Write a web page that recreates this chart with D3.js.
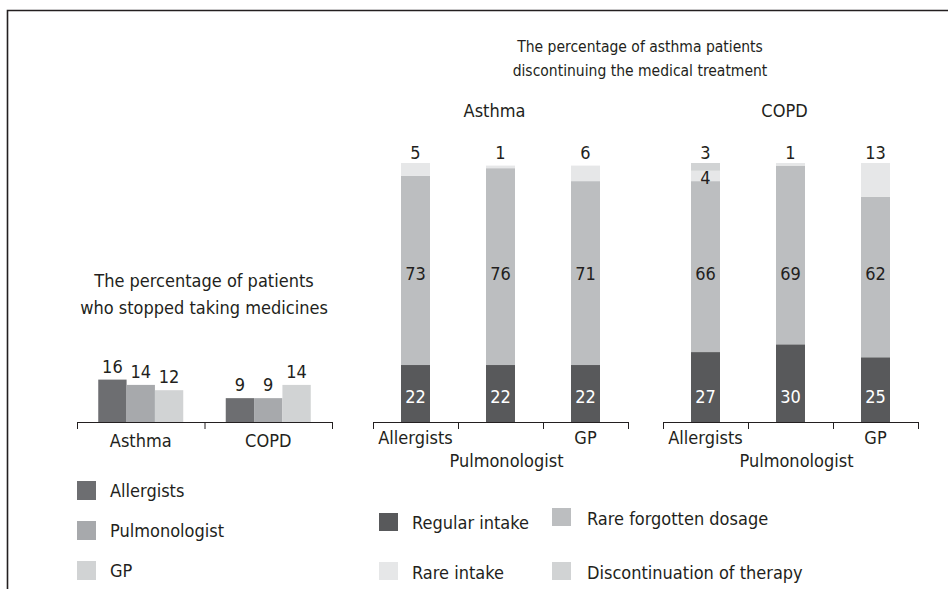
<!DOCTYPE html>
<html>
<head>
<meta charset="utf-8">
<script src="https://cdn.jsdelivr.net/npm/d3@7"></script>
<style>
  body { margin: 0; background: #fff; }
  svg text { font-family: "DejaVu Sans Condensed", "DejaVu Sans", sans-serif; font-stretch: condensed; font-size: 18px; fill: #231f20; }
</style>
</head>
<body>
<div id="chart"></div>
<script>
// left chart: patients who stopped taking medicines
var leftCategories = ["Asthma", "COPD"];
var specialists = ["Allergists", "Pulmonologist", "GP"];
var stoppedAllergists = [16, 9];
var stoppedPulmonologist = [14, 9];
var stoppedGP = [12, 14];

// right chart: discontinuing the medical treatment (by specialist)
var panels = ["Asthma", "COPD"];
var intakeSeries = ["Regular intake", "Rare forgotten dosage", "Rare intake", "Discontinuation of therapy"];
var asthmaRegular = [22, 22, 22];
var asthmaRareForgotten = [73, 76, 71];
var asthmaRareIntake = [5, 1, 6];
var asthmaDiscontinuation = [0, 0, 0];
var copdRegular = [27, 30, 25];
var copdRareForgotten = [66, 69, 62];
var copdRareIntake = [4, 1, 13];
var copdDiscontinuation = [3, 0, 0];

var width = 948, height = 589;
var specColors = ["#6d6e71", "#a7a9ac", "#d1d3d4"];
var intakeColors = ["#58595b", "#bcbec0", "#e6e7e8", "#d1d3d4"];
var ink = "#231f20";

var svg = d3.select("#chart")
    .append("svg")
    .attr("width", width)
    .attr("height", height);

// frame
svg.append("path")
    .attr("d", "M" + width + ",10.5H7.5V" + height)
    .attr("fill", "none")
    .attr("stroke", ink)
    .attr("stroke-width", 1.6);

//---------- LEFT grouped bars
var baseY = 422;
var leftData = leftCategories.map(function (c, i) {
    return { cat: c, values: [stoppedAllergists[i], stoppedPulmonologist[i], stoppedGP[i]] };
});

var xL = d3.scaleBand().domain(leftCategories).range([77, 332]);
var xInner = d3.scaleBand().domain(specialists).range([0, 85]);
var yL = d3.scaleLinear().domain([0, 16]).range([baseY, baseY - 42.4]);

var left = svg.append("g").attr("class", "left");

left.append("text")
    .attr("text-anchor", "middle")
    .selectAll("tspan")
    .data(["The percentage of patients", "who stopped taking medicines"])
    .enter()
    .append("tspan")
    .attr("x", 204)
    .attr("y", function (d, i) { return 286.5 + i * 27; })
    .text(function (d) { return d; });

var groups = left.selectAll(".grp")
    .data(leftData)
    .enter()
    .append("g")
    .attr("class", "grp")
    .attr("transform", function (d) {
        return "translate(" + (xL(d.cat) + (xL.bandwidth() - 85) / 2) + ",0)";
    });

groups.selectAll("rect")
    .data(function (d) { return d.values; })
    .enter()
    .append("rect")
    .attr("x", function (d, i) { return xInner(specialists[i]); })
    .attr("width", xInner.bandwidth())
    .attr("y", function (d) { return yL(d); })
    .attr("height", function (d) { return baseY - yL(d); })
    .attr("fill", function (d, i) { return specColors[i]; });

groups.selectAll(".val")
    .data(function (d) { return d.values; })
    .enter()
    .append("text")
    .attr("class", "val")
    .attr("text-anchor", "middle")
    .attr("x", function (d, i) { return xInner(specialists[i]) + xInner.bandwidth() / 2; })
    .attr("y", function (d) { return yL(d) - 7; })
    .text(function (d) { return d; });

var leftTicks = d3.scaleLinear().domain([0, 2]).range([77, 332]);
left.append("g")
    .attr("transform", "translate(0," + baseY + ")")
    .call(d3.axisBottom(leftTicks).ticks(2).tickSize(7).tickSizeOuter(0).tickFormat(""))
    .call(function (g) { g.selectAll("path, line").attr("stroke", ink); });

left.selectAll(".cat")
    .data(leftCategories)
    .enter()
    .append("text")
    .attr("class", "cat")
    .attr("text-anchor", "middle")
    .attr("x", function (d) { return xL(d) + xL.bandwidth() / 2; })
    .attr("y", 446.5)
    .text(function (d) { return d; });

// left legend
var legL = left.selectAll(".legL")
    .data(specialists)
    .enter()
    .append("g")
    .attr("class", "legL")
    .attr("transform", function (d, i) { return "translate(77," + (481 + i * 40) + ")"; });
legL.append("rect").attr("width", 19).attr("height", 19)
    .attr("fill", function (d, i) { return specColors[i]; });
legL.append("text").attr("x", 33).attr("y", 16).text(function (d) { return d; });

//---------- RIGHT stacked bars
svg.append("text")
    .attr("text-anchor", "middle")
    .style("font-size", "15.5px")
    .selectAll("tspan")
    .data(["The percentage of asthma patients", "discontinuing the medical treatment"])
    .enter()
    .append("tspan")
    .attr("x", 640)
    .attr("y", function (d, i) { return 52 + i * 24; })
    .text(function (d) { return d; });

var panelData = [
    [asthmaRegular, asthmaRareForgotten, asthmaRareIntake, asthmaDiscontinuation],
    [copdRegular, copdRareForgotten, copdRareIntake, copdDiscontinuation]
];
var panelRange = [[373, 628], [663, 918]];
var yS = d3.scaleLinear().domain([0, 100]).range([baseY, baseY - 259]);
var barW = 29;

panels.forEach(function (name, p) {
    var rows = specialists.map(function (s, i) {
        var r = { spec: s };
        intakeSeries.forEach(function (k, j) { r[k] = panelData[p][j][i]; });
        return r;
    });
    var stacked = d3.stack().keys(intakeSeries)(rows);
    var x = d3.scaleBand().domain(specialists).range(panelRange[p]);
    var off = (x.bandwidth() - barW) / 2;

    var g = svg.append("g").attr("class", "panel");

    g.append("text")
        .attr("text-anchor", "middle")
        .attr("x", (panelRange[p][0] + panelRange[p][1]) / 2 - 6)
        .attr("y", 116.5)
        .text(name);

    var layer = g.selectAll(".layer")
        .data(stacked)
        .enter()
        .append("g")
        .attr("class", "layer")
        .attr("fill", function (d, i) { return intakeColors[i]; });

    layer.selectAll("rect")
        .data(function (d) { return d.filter(function (v) { return v[1] > v[0]; }); })
        .enter()
        .append("rect")
        .attr("x", function (d) { return x(d.data.spec) + off; })
        .attr("width", barW)
        .attr("y", function (d) { return yS(d[1]); })
        .attr("height", function (d) { return yS(d[0]) - yS(d[1]); });

    // value labels
    stacked.forEach(function (ser, k) {
        ser.forEach(function (v, i) {
            var val = v[1] - v[0];
            if (val <= 0) return;
            var isTop = true;
            for (var m = k + 1; m < stacked.length; m++) {
                if (stacked[m][i][1] - stacked[m][i][0] > 0) isTop = false;
            }
            var yPos, fill = ink;
            if (k === 0) { yPos = yS(9.7) + 6.5; fill = "#fff"; }
            else if (k === 1) { yPos = yS(57.5) + 6.5; }
            else if (isTop) { yPos = yS(100) - 4.5; }
            else { yPos = (yS(v[0]) + yS(v[1])) / 2 + 8.5; }
            g.append("text")
                .attr("text-anchor", "middle")
                .attr("x", x(v.data.spec) + x.bandwidth() / 2)
                .attr("y", yPos)
                .style("fill", fill)
                .text(val);
        });
    });

    var ticks = d3.scaleLinear().domain([0, 3]).range(panelRange[p]);
    g.append("g")
        .attr("transform", "translate(0," + baseY + ")")
        .call(d3.axisBottom(ticks).ticks(3).tickSize(7).tickSizeOuter(0).tickFormat(""))
        .call(function (a) { a.selectAll("path, line").attr("stroke", ink); });

    g.selectAll(".spec")
        .data(specialists)
        .enter()
        .append("text")
        .attr("class", "spec")
        .attr("text-anchor", "middle")
        .attr("x", function (d, i) { return x(d) + x.bandwidth() / 2 + (i % 2 ? 6 : 0); })
        .attr("y", function (d, i) { return i % 2 ? 467 : 443.5; })
        .text(function (d) { return d; });
});

// right legend
var legPos = [[379, 513, 412, 522], [552, 508, 587, 518], [379, 562, 412, 572], [552, 562, 587, 572]];
var legR = svg.selectAll(".legR")
    .data(intakeSeries)
    .enter()
    .append("g")
    .attr("class", "legR");
legR.append("rect")
    .attr("x", function (d, i) { return legPos[i][0]; })
    .attr("y", function (d, i) { return legPos[i][1]; })
    .attr("width", 19).attr("height", 18)
    .attr("fill", function (d, i) { return intakeColors[i]; });
legR.append("text")
    .attr("x", function (d, i) { return legPos[i][2]; })
    .attr("y", function (d, i) { return legPos[i][3] + 6.5; })
    .text(function (d) { return d; });
</script>
</body>
</html>
